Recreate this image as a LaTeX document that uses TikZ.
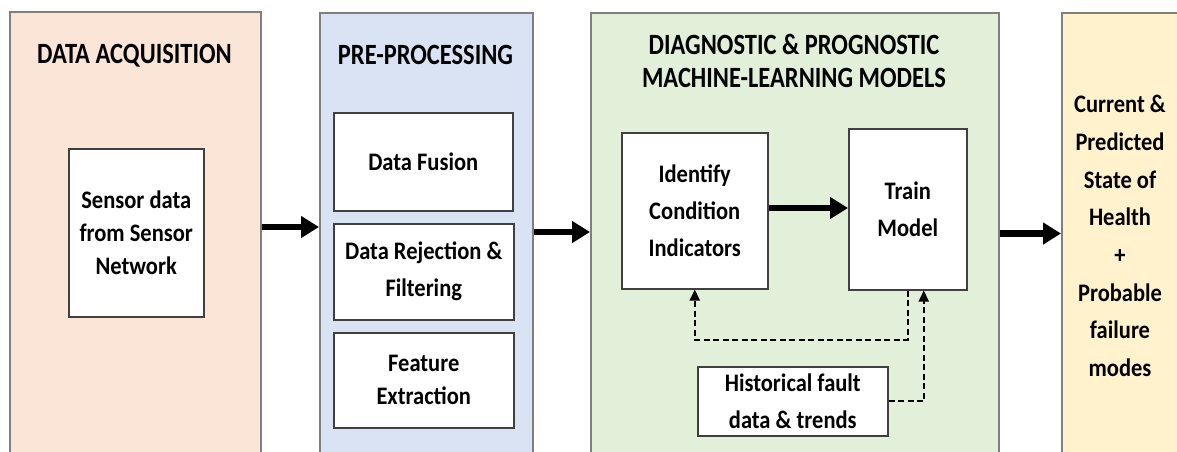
\documentclass[tikz,border=0pt]{standalone}
\usepackage{fontspec}
\setmainfont{Carlito}
\usepackage{graphicx}
\usetikzlibrary{arrows.meta}
\definecolor{peachfill}{HTML}{FBE5D6}
\definecolor{bluefill}{HTML}{DAE3F3}
\definecolor{greenfill}{HTML}{E2F0D9}
\definecolor{yellowfill}{HTML}{FFF2CC}
\definecolor{panelline}{HTML}{7F7F7F}
\definecolor{boxline}{HTML}{404040}
% slightly tall lettering
\newcommand\tl[1]{\scalebox{1}[1.2]{#1}}
\newcommand\bl[1]{\scalebox{1}[1.12]{#1}}
\begin{document}
\begin{tikzpicture}[x=1pt,y=-1pt,
  panel/.style={draw=panelline,line width=1.6pt,anchor=north west,inner sep=0pt},
  title/.style={font=\fontsize{24.5}{33}\selectfont\bfseries,align=center,inner sep=0pt},
  stepbox/.style={draw=boxline,fill=white,line width=1.5pt,anchor=north west,inner sep=0pt,
    font=\fontsize{22.5}{37}\selectfont\bfseries,align=center},
  bigarrow/.style={line width=6.5pt,-{Triangle[length=18pt,width=21pt]}},
  dasharrow/.style={line width=2pt,dash pattern=on 6pt off 3.5pt,-{Triangle[length=11pt,width=10pt]}},
]
\useasboundingbox (0,0) rectangle (1177,451);
\clip (0,0) rectangle (1177,451);

% four stage panels
\node[panel,fill=peachfill,minimum width=251pt,minimum height=470pt] (acq) at (9,11) {};
\node[panel,fill=bluefill,minimum width=213pt,minimum height=470pt] (pre) at (319,12) {};
\node[panel,fill=greenfill,minimum width=408pt,minimum height=470pt] (ml) at (590,12) {};
\node[panel,fill=yellowfill,minimum width=140pt,minimum height=470pt] (out) at (1061,12) {};

% panel titles
\node[title] (tacq) at (134.5,56) {\tl{DATA ACQUISITION}};
\node[title] (tpre) at (425.5,55) {\tl{PRE-PROCESSING}};
\node[title] (tml) at (794,61) {\tl{DIAGNOSTIC \& PROGNOSTIC}\\\tl{MACHINE-LEARNING MODELS}};

% data acquisition
\node[stepbox,minimum width=135pt,minimum height=168pt,font=\fontsize{22.5}{33}\selectfont\bfseries]
  (sensor) at (68,148) {\bl{Sensor data}\\\bl{from Sensor}\\\bl{Network}};

% pre-processing
\node[stepbox,minimum width=179pt,minimum height=98pt] (fusion) at (333,112) {\bl{Data Fusion}};
\node[stepbox,minimum width=180pt,minimum height=96pt] (reject) at (333,223) {\bl{Data Rejection \&}\\\bl{Filtering}};
\node[stepbox,minimum width=180pt,minimum height=95pt,font=\fontsize{22.5}{33}\selectfont\bfseries]
  (feature) at (333,332) {\bl{Feature}\\\bl{Extraction}};

% machine-learning models
\node[stepbox,minimum width=146pt,minimum height=156pt] (ident) at (621,132) {\bl{Identify}\\\bl{Condition}\\\bl{Indicators}};
\node[stepbox,minimum width=118pt,minimum height=161pt] (train) at (848,128) {\bl{Train}\\\bl{Model}};
\node[stepbox,minimum width=190pt,minimum height=69pt] (hist) at (697,366) {\bl{Historical fault}\\\bl{data \& trends}};

% output
\node[font=\fontsize{22.5}{37.7}\selectfont\bfseries,align=center,inner sep=0pt] (state) at (1120,236)
  {\bl{Current \&}\\\bl{Predicted}\\\bl{State of}\\\bl{Health}\\\bl{+}\\\bl{Probable}\\\bl{failure}\\\bl{modes}};

% stage-to-stage flow
\coordinate (y1) at (0,227);
\coordinate (y2) at (0,232);
\coordinate (y3) at (0,233.5);
\draw[bigarrow] (acq.east |- y1) -- (pre.west |- y1);
\draw[bigarrow] (pre.east |- y2) -- (ml.west |- y2);
\draw[bigarrow] (ml.east |- y3) -- (out.west |- y3);
\draw[bigarrow] (ident.east |- 0,208) -- (train.west |- 0,208);

% feedback paths
\draw[dasharrow] (train.south) -- ++(0,49) -| (ident.south);
\draw[dasharrow] (hist.east) -| ([xshift=16pt]train.south);
\end{tikzpicture}
\end{document}
